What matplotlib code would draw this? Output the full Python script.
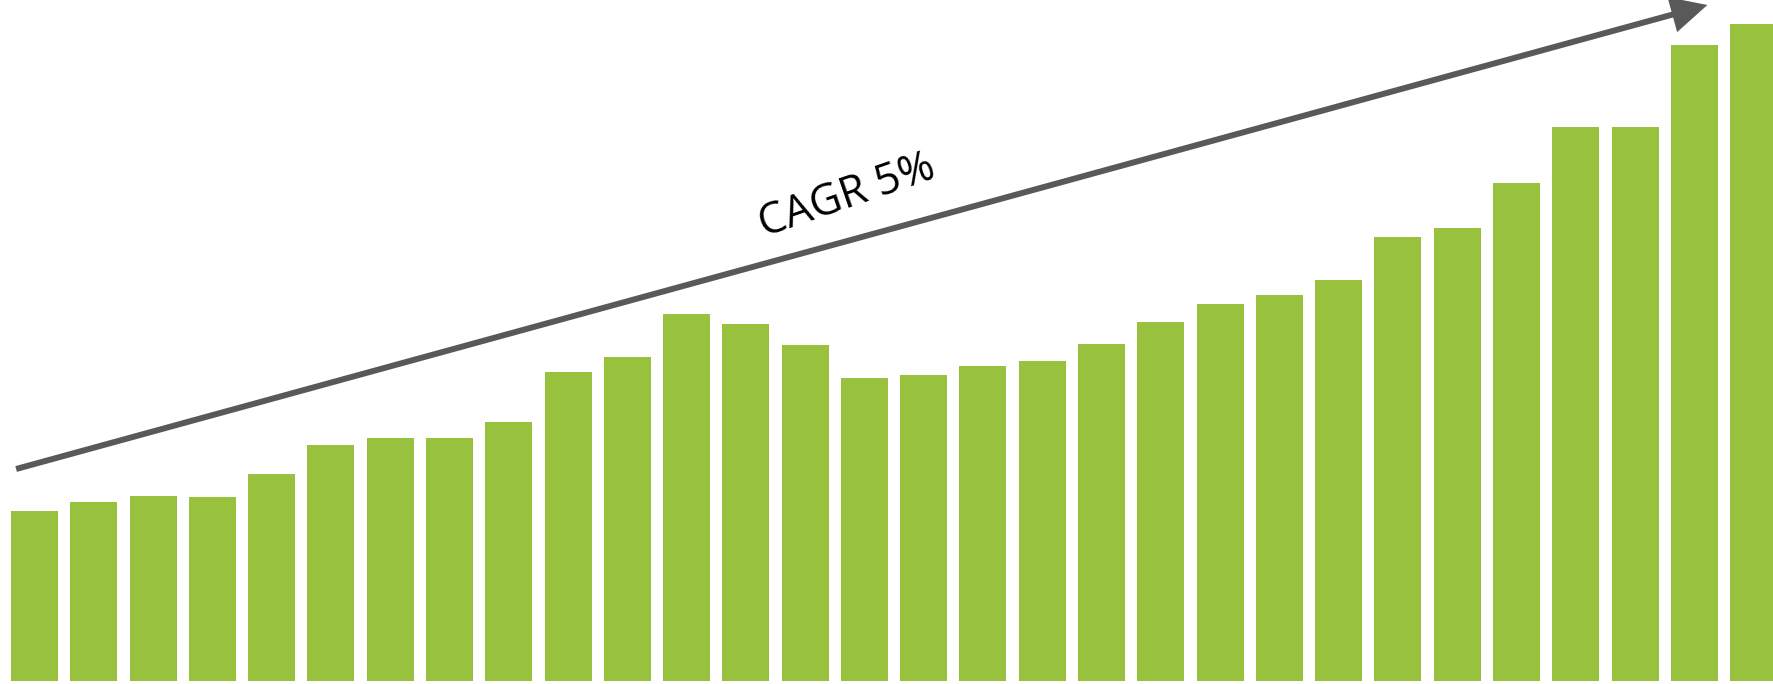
import matplotlib.pyplot as plt
import numpy as np

# Yearly values (index units), 30 periods
values = [170, 179, 185, 184, 207, 236, 243, 243, 259, 309,
          324, 367, 357, 336, 303, 306, 315, 320, 337, 359,
          377, 386, 401, 444, 453, 498, 554, 554, 636, 657]

# Trend arrow end points (bar index, value)
trend_start = (-0.31, 212)
trend_end = (28.22, 676)
trend_label = 'CAGR 5%'

BAR_COLOR = '#98c13d'
ARROW_COLOR = '#595959'

fig = plt.figure(figsize=(17.73, 6.84), dpi=100)
ax = fig.add_axes([0, 0, 1, 1])

x = np.arange(len(values))
ax.bar(x, values, width=0.793, color=BAR_COLOR, linewidth=0)

ax.annotate('', xy=trend_end, xytext=trend_start,
            arrowprops=dict(arrowstyle='-|>', lw=4.3, color=ARROW_COLOR,
                            mutation_scale=48, shrinkA=0, shrinkB=0,
                            joinstyle='miter', capstyle='butt'))

ax.text(13.71, 485, trend_label, rotation=19, rotation_mode='anchor',
        ha='center', va='center', fontsize=31, family=['Open Sans', 'DejaVu Sans'])

ax.set_xlim(-0.582, 29.327)
ax.set_ylim(-3, 681)
ax.axis('off')

fig.savefig('out.png', dpi=100)
